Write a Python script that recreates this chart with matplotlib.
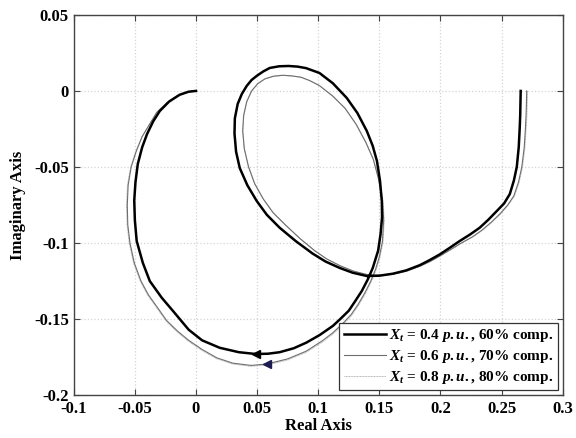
import matplotlib
matplotlib.use("Agg")
import matplotlib.pyplot as plt

plt.rcParams['font.family'] = ['Liberation Serif', 'DejaVu Serif']
plt.rcParams['font.weight'] = 'bold'
plt.rcParams['mathtext.fontset'] = 'custom'
plt.rcParams['mathtext.rm'] = 'Liberation Serif:bold'
plt.rcParams['mathtext.it'] = 'Liberation Serif:italic:bold'
plt.rcParams['mathtext.bf'] = 'Liberation Serif:bold'

## Nyquist loci, real / imaginary parts
re_04 = [0.2656, 0.2654, 0.2652, 0.2648, 0.2640, 0.2624, 0.2600, 0.2567, 0.2520, 0.2460,
         0.2390, 0.2320, 0.2240, 0.2157, 0.2075, 0.1994, 0.1910, 0.1830, 0.1720, 0.1610,
         0.1500, 0.1397, 0.1280, 0.1176, 0.1060, 0.0955, 0.0820, 0.0685, 0.0580, 0.0497,
         0.0420, 0.0358, 0.0328, 0.0315, 0.0318, 0.0341, 0.0375, 0.0415, 0.0455, 0.0497,
         0.0550, 0.0603, 0.0680, 0.0757, 0.0830, 0.0900, 0.1010, 0.1120, 0.1233, 0.1320,
         0.1397, 0.1445, 0.1480, 0.1505, 0.1520, 0.1522, 0.1510, 0.1490, 0.1446, 0.1405,
         0.1356, 0.1300, 0.1250, 0.1180, 0.1120, 0.1012, 0.0903, 0.0800, 0.0685, 0.0590,
         0.0490, 0.0350, 0.0194, 0.0050, -0.0060, -0.0188, -0.0280, -0.0378, -0.0435, -0.0485,
         -0.0500, -0.0505, -0.0495, -0.0476, -0.0440, -0.0400, -0.0350, -0.0296, -0.0220, -0.0133,
         -0.0060, 0.0]
im_04 = [0.0, -0.008, -0.016, -0.0243, -0.037, -0.050, -0.059, -0.0678, -0.0740, -0.0790,
         -0.0848, -0.0900, -0.0945, -0.0987, -0.1032, -0.1075, -0.1113, -0.1146, -0.1180, -0.1202,
         -0.1215, -0.1217, -0.1195, -0.1164, -0.1122, -0.1070, -0.0990, -0.0900, -0.0815, -0.0724,
         -0.0620, -0.0507, -0.0400, -0.0280, -0.0180, -0.0086, -0.0020, 0.0033, 0.0072, 0.0099,
         0.0128, 0.0151, 0.0162, 0.0164, 0.0160, 0.0150, 0.0118, 0.0050, -0.0046, -0.0145,
         -0.0263, -0.0360, -0.0460, -0.0590, -0.0724, -0.0830, -0.0940, -0.1050, -0.1164, -0.1240,
         -0.1316, -0.1385, -0.1445, -0.1500, -0.1545, -0.1605, -0.1655, -0.1692, -0.1718, -0.1728,
         -0.1730, -0.1718, -0.1689, -0.1640, -0.1570, -0.1447, -0.1360, -0.1250, -0.1130, -0.0987,
         -0.0850, -0.0720, -0.0600, -0.0480, -0.0370, -0.0283, -0.0200, -0.0132, -0.0070, -0.0025,
         -0.0005, 0.0]

re_06 = [0.2705, 0.2703, 0.2700, 0.2695, 0.2685, 0.2665, 0.2638, 0.2600, 0.2550, 0.2490,
         0.2420, 0.2340, 0.2260, 0.2170, 0.2085, 0.2000, 0.1915, 0.1830, 0.1720, 0.1610,
         0.1510, 0.1410, 0.1290, 0.1180, 0.1070, 0.0970, 0.0850, 0.0730, 0.0630, 0.0550,
         0.0480, 0.0430, 0.0395, 0.0382, 0.0390, 0.0415, 0.0455, 0.0505, 0.0565, 0.0635,
         0.0710, 0.0783, 0.0860, 0.0930, 0.1010, 0.1120, 0.1220, 0.1310, 0.1390, 0.1450,
         0.1490, 0.1525, 0.1535, 0.1525, 0.1500, 0.1470, 0.1430, 0.1380, 0.1325, 0.1270,
         0.1200, 0.1120, 0.1030, 0.0900, 0.0750, 0.0579, 0.0450, 0.0300, 0.0170, 0.0050,
         -0.0060, -0.0150, -0.0240, -0.0310, -0.0390, -0.0450, -0.0505, -0.0540, -0.0558, -0.0562,
         -0.0555, -0.0530, -0.0490, -0.0440, -0.0380, -0.0320, -0.0240, -0.0150, -0.0070, 0.0]
im_06 = [0.0, -0.008, -0.016, -0.0243, -0.037, -0.050, -0.060, -0.069, -0.075, -0.0805,
         -0.0860, -0.0915, -0.0960, -0.1000, -0.1042, -0.1083, -0.1121, -0.1153, -0.1185, -0.1205,
         -0.1212, -0.1210, -0.1185, -0.1150, -0.1105, -0.1050, -0.0970, -0.0880, -0.0800, -0.0710,
         -0.0610, -0.0500, -0.0380, -0.0263, -0.0160, -0.0070, 0.0000, 0.0048, 0.0080, 0.0097,
         0.0103, 0.0099, 0.0090, 0.0068, 0.0035, -0.0035, -0.0115, -0.0220, -0.0340, -0.0450,
         -0.0570, -0.0720, -0.0850, -0.0990, -0.1090, -0.1170, -0.1250, -0.1330, -0.1405, -0.1470,
         -0.1530, -0.1590, -0.1645, -0.1712, -0.1762, -0.1796, -0.1805, -0.1790, -0.1755, -0.1700,
         -0.1640, -0.1580, -0.1510, -0.1430, -0.1340, -0.1250, -0.1130, -0.1000, -0.0880, -0.0750,
         -0.0620, -0.0500, -0.0400, -0.0300, -0.0220, -0.0140, -0.0080, -0.0030, -0.0008, 0.0]

re_08 = [0.2712, 0.2710, 0.2707, 0.2701, 0.2691, 0.2671, 0.2643, 0.2605, 0.2554, 0.2494,
         0.2423, 0.2343, 0.2262, 0.2172, 0.2087, 0.2001, 0.1916, 0.1831, 0.1721, 0.1611,
         0.1511, 0.1411, 0.1291, 0.1181, 0.1071, 0.0971, 0.0851, 0.0731, 0.0631, 0.0551,
         0.0481, 0.0431, 0.0396, 0.0383, 0.0391, 0.0416, 0.0456, 0.0506, 0.0566, 0.0636,
         0.0711, 0.0784, 0.0861, 0.0932, 0.1012, 0.1122, 0.1223, 0.1313, 0.1393, 0.1454,
         0.1494, 0.1530, 0.1540, 0.1530, 0.1505, 0.1475, 0.1435, 0.1385, 0.1330, 0.1274,
         0.1204, 0.1123, 0.1033, 0.0902, 0.0751, 0.0580, 0.0450, 0.0299, 0.0168, 0.0047,
         -0.0064, -0.0154, -0.0245, -0.0315, -0.0395, -0.0455, -0.0511, -0.0546, -0.0564, -0.0568,
         -0.0561, -0.0535, -0.0494, -0.0443, -0.0382, -0.0322, -0.0241, -0.0151, -0.0070, 0.0]
im_08 = [0.0, -0.008, -0.016, -0.0244, -0.0371, -0.0502, -0.0602, -0.0692, -0.0752, -0.0807,
         -0.0862, -0.0917, -0.0962, -0.1002, -0.1044, -0.1085, -0.1123, -0.1155, -0.1187, -0.1207,
         -0.1214, -0.1211, -0.1186, -0.1151, -0.1106, -0.1051, -0.0971, -0.0881, -0.0801, -0.0711,
         -0.0611, -0.0501, -0.0381, -0.0264, -0.0161, -0.0071, -0.0001, 0.0047, 0.0079, 0.0096,
         0.0102, 0.0098, 0.0089, 0.0067, 0.0034, -0.0036, -0.0116, -0.0221, -0.0341, -0.0452,
         -0.0572, -0.0722, -0.0852, -0.0993, -0.1093, -0.1174, -0.1254, -0.1335, -0.1410, -0.1476,
         -0.1536, -0.1597, -0.1652, -0.1719, -0.1769, -0.1802, -0.1811, -0.1796, -0.1761, -0.1706,
         -0.1645, -0.1585, -0.1514, -0.1434, -0.1343, -0.1253, -0.1132, -0.1001, -0.0881, -0.0751,
         -0.0621, -0.0501, -0.0401, -0.0301, -0.0221, -0.0141, -0.0081, -0.0031, -0.0008, 0.0]

# direction arrows on the lower arc
arrow_04 = (0.049, -0.1730)
arrow_06 = (0.058, -0.1796)

labels = [r'$X_t$ = 0.4 $p.u.$, 60% comp.',
          r'$X_t$ = 0.6 $p.u.$, 70% comp.',
          r'$X_t$ = 0.8 $p.u.$, 80% comp.']

xticks = [-0.1, -0.05, 0, 0.05, 0.1, 0.15, 0.2, 0.25, 0.3]
yticks = [-0.2, -0.15, -0.1, -0.05, 0, 0.05]

fig = plt.figure(figsize=(5.76, 4.38), dpi=100)
ax = fig.add_axes([0.128, 0.098, 0.849, 0.868])

ax.plot(re_04, im_04, color='black', lw=1.8, label=labels[0], zorder=4)
ax.plot(re_08, im_08, color='#b4b4b4', lw=0.7, ls=(0, (1, 0.6)), label=labels[2], zorder=2)
ax.plot(re_06, im_06, color='#6e6e6e', lw=0.8, label=labels[1], zorder=3)

ax.plot(*arrow_04, marker='<', color='black', ms=6, ls='none', zorder=5)
ax.plot(*arrow_06, marker='<', color='#1c1c50', ms=6, ls='none', zorder=5)

ax.set_xlim(-0.1, 0.3)
ax.set_ylim(-0.2, 0.05)
ax.set_xticks(xticks)
ax.set_yticks(yticks)
ax.set_xticklabels(['%g' % v for v in xticks])
ax.set_yticklabels(['%g' % v for v in yticks])
ax.tick_params(direction='in', top=True, right=True, length=4, width=0.8,
               labelsize=12, color='#444444')
ax.tick_params(axis='x', pad=4)
ax.grid(True, color='#d4d4d4', ls=':', lw=0.9)
for s in ax.spines.values():
    s.set_color('#444444')
    s.set_linewidth(1.0)

ax.set_xlabel('Real Axis', fontsize=12, fontweight='bold', labelpad=1)
ax.set_ylabel('Imaginary Axis', fontsize=12, fontweight='bold', labelpad=6)

# legend entries in the order 0.4, 0.6, 0.8
handles, texts = ax.get_legend_handles_labels()
order = [0, 2, 1]
leg = ax.legend([handles[i] for i in order], [texts[i] for i in order],
                loc='lower right', fontsize=11, handlelength=2.8, handletextpad=0.2,
                borderaxespad=0.3, fancybox=False, framealpha=1, labelspacing=0.25,
                borderpad=0.3)
leg.get_frame().set_edgecolor('#333333')
leg.get_frame().set_linewidth(0.9)
leg.set_zorder(10)

fig.savefig('out.png', dpi=100)
